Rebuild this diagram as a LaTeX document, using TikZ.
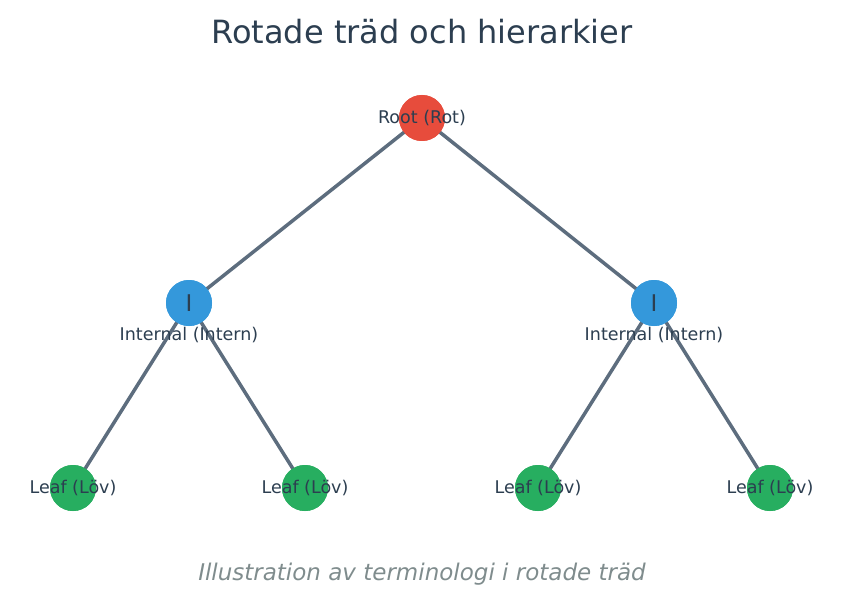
\documentclass[tikz,border=0pt]{standalone}
\usepackage{fontspec}
\setmainfont{DejaVu Sans}
\definecolor{txt}{HTML}{2C3E50}
\definecolor{edge}{HTML}{5D6D7E}
\definecolor{rootc}{HTML}{E74C3C}
\definecolor{intc}{HTML}{3498DB}
\definecolor{leafc}{HTML}{27AE60}
\definecolor{capc}{HTML}{7F8C8D}
\tikzset{
  vertex/.style={circle, minimum size=46pt, inner sep=0pt},
  lbl/.style={text=txt, font=\fontsize{17.5}{20}\selectfont},
  link/.style={draw=edge, line width=3.5pt}
}
\begin{document}
\begin{tikzpicture}[x=1pt,y=-1pt]
    \useasboundingbox (0,0) rectangle (843,607);
    \node [text=txt, font=\fontsize{32}{36}\selectfont] (title) at (422,32) {Rotade träd och hierarkier};
    \node [vertex, fill=rootc] (root) at (422,118) {};
    \node [vertex, fill=intc] (i1) at (189,303) {};
    \node [vertex, fill=intc] (i2) at (654,303) {};
    \node [vertex, fill=leafc] (l1) at (73,488) {};
    \node [vertex, fill=leafc] (l2) at (305,488) {};
    \node [vertex, fill=leafc] (l3) at (538,488) {};
    \node [vertex, fill=leafc] (l4) at (770,488) {};
    \draw [link] (root.center) -- (i1.center);
    \draw [link] (root.center) -- (i2.center);
    \draw [link] (i1.center) -- (l1.center);
    \draw [link] (i1.center) -- (l2.center);
    \draw [link] (i2.center) -- (l3.center);
    \draw [link] (i2.center) -- (l4.center);
    % redraw circles over the links
    \foreach \n/\c in {root/rootc, i1/intc, i2/intc, l1/leafc, l2/leafc, l3/leafc, l4/leafc}
        \fill [\c] (\n) circle (23);
    \node [lbl] (rootlbl) at (root) {Root (Rot)};
    \node [text=txt, font=\fontsize{23}{26}\selectfont] (i1mark) at (i1) {I};
    \node [text=txt, font=\fontsize{23}{26}\selectfont] (i2mark) at (i2) {I};
    \node [lbl] (i1lbl) at (189,335) {Internal (Intern)};
    \node [lbl] (i2lbl) at (654,335) {Internal (Intern)};
    \foreach \n in {l1, l2, l3, l4}
        \node [lbl] (\n lbl) at (\n) {Leaf (Löv)};
    \node [text=capc, font=\fontsize{23}{26}\selectfont\itshape] (caption) at (422,574) {Illustration av terminologi i rotade träd};
\end{tikzpicture}
\end{document}
